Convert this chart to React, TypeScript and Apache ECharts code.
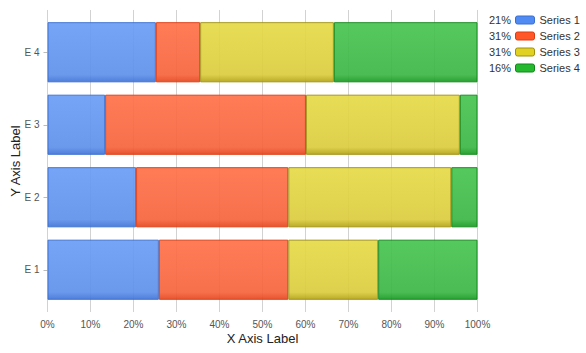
import React, { useEffect, useRef } from "react";
import * as echarts from "echarts";

const categories = ["E 1", "E 2", "E 3", "E 4"];
const seriesNames = ["Series 1", "Series 2", "Series 3", "Series 4"];
const series1 = [25.9, 20.6, 13.4, 25.2];
const series2 = [30.1, 35.4, 46.7, 10.3];
const series3 = [20.9, 37.9, 35.8, 31.1];
const series4 = [23.1, 6.1, 4.1, 33.4];
const legendPct = ["21%", "31%", "31%", "16%"];
const xTicks = [0, 10, 20, 30, 40, 50, 60, 70, 80, 90, 100];

const baseColors = ["#508bf3", "#ff5727", "#e0d122", "#24b92f"];
const topColors = ["#6a9df6", "#ff7149", "#e6da47", "#47c450"];
const botColors = ["#5e90ea", "#f6643d", "#dbcc3d", "#3cb645"];
const edgeColors = ["#3f74d6", "#e4461c", "#b3a316", "#189a22"];
const borderColors = ["#3a6fd0", "#dd3a10", "#a09010", "#11881a"];

export default function App() {
  const ref = useRef<HTMLDivElement>(null);
  useEffect(() => {
    if (!ref.current) return;
    const chart = echarts.init(ref.current, null, { renderer: "svg" });
    const data = [series1, series2, series3, series4];
    const font = "'Liberation Sans', Arial, sans-serif";
    const splitColor = "#d2d2d2";
    chart.setOption({
      animation: false,
      grid: {
        left: 47.5,
        right: 108.5,
        top: 16,
        bottom: 47,
        containLabel: false,
        outerBoundsMode: "none",
      },
      legend: {
        orient: "vertical",
        left: 515,
        top: 14,
        width: 71,
        padding: 0,
        itemWidth: 19,
        itemHeight: 8,
        itemGap: 4,
        icon: "roundRect",
        textStyle: {
          fontFamily: font,
          fontSize: 11,
          color: "#333",
          lineHeight: 12,
        },
        data: seriesNames.map((n, i) => ({
          name: n,
          itemStyle: { color: baseColors[i], borderColor: borderColors[i], borderWidth: 1, opacity: 1 },
        })),
      },
      graphic: legendPct.map((p, i) => ({
        type: "text",
        x: 511,
        y: 20 + i * 16,
        style: {
          text: p,
          textAlign: "right",
          textVerticalAlign: "middle",
          font: `11px ${font}`,
          fill: "#333",
        },
      })),
      xAxis: [
        {
          type: "value",
          min: 0,
          max: 100,
          interval: 10,
          position: "bottom",
          name: "X Axis Label",
          nameLocation: "middle",
          nameGap: 26,
          nameMoveOverlap: false,
          nameTextStyle: { fontFamily: font, fontSize: 13, color: "#222" },
          axisLine: { show: false },
          axisTick: { show: true, length: 6, lineStyle: { color: splitColor } },
          axisLabel: {
            margin: 13,
            fontFamily: font,
            fontSize: 10,
            color: "#555",
            formatter: (v: number) => (xTicks.includes(v) ? v + "%" : ""),
          },
          splitLine: { show: true, lineStyle: { color: splitColor, width: 1 } },
        },
        {
          type: "value",
          min: 0,
          max: 100,
          interval: 10,
          position: "top",
          axisLine: { show: false },
          axisTick: { show: true, length: 6, lineStyle: { color: splitColor } },
          axisLabel: { show: false },
          splitLine: { show: false },
        },
      ],
      yAxis: {
        type: "category",
        data: categories,
        name: "Y Axis Label",
        nameLocation: "middle",
        nameGap: 26,
        nameMoveOverlap: false,
        nameTextStyle: { fontFamily: font, fontSize: 13, color: "#222" },
        axisLine: { show: false },
        axisTick: { show: true, alignWithLabel: true, length: 4, lineStyle: { color: "#bbb" } },
        axisLabel: { margin: 8, fontFamily: font, fontSize: 10, color: "#555" },
      },
      series: data.map((d, i) => ({
        name: seriesNames[i],
        type: "bar",
        stack: "total",
        xAxisIndex: 0,
        barCategoryGap: "17%",
        data: d,
        itemStyle: {
          color: new echarts.graphic.LinearGradient(0, 0, 0, 1, [
            { offset: 0, color: topColors[i] },
            { offset: 0.88, color: botColors[i] },
            { offset: 1, color: edgeColors[i] },
          ]),
          borderColor: borderColors[i],
          borderWidth: 1,
          opacity: 0.92,
        },
      })),
    });
    return () => chart.dispose();
  }, []);
  return (
    <div
      ref={ref}
      style={{ width: 586, height: 353, position: "absolute", left: 0, top: 0 }}
    />
  );
}
